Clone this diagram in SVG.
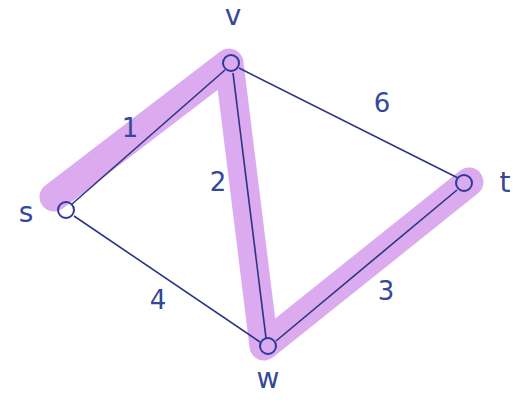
<svg xmlns="http://www.w3.org/2000/svg" width="530" height="400" viewBox="0 0 530 400">
<style>
.hl{fill:none;stroke:#dcaaee;stroke-width:29;stroke-linecap:round;stroke-linejoin:round}
.e{fill:none;stroke:#2a3580;stroke-width:1.6}
.n{fill:none;stroke:#2e3a9a;stroke-width:2}
.lbl{font-family:"DejaVu Sans",sans-serif;font-size:28px;fill:#34489a;text-anchor:middle}
.w{font-family:"DejaVu Sans",sans-serif;font-size:26px;fill:#34489a;text-anchor:middle}
</style>
<rect width="530" height="400" fill="#ffffff"/>
<path class="hl" d="M54,197 L229,63 L264,346 L469,182"/>
<g id="connectors">
<line class="e" x1="72" y1="204" x2="225" y2="70"/>
<line class="e" x1="239" y1="68" x2="458" y2="178"/>
<line class="e" x1="74" y1="216" x2="260" y2="342"/>
<line class="e" x1="233" y1="73" x2="266" y2="338"/>
<line class="e" x1="276" y1="341" x2="457" y2="190"/>
<text class="w" x="130" y="137">1</text>
<text class="w" x="382" y="112">6</text>
<text class="w" x="218" y="191">2</text>
<text class="w" x="158" y="309">4</text>
<text class="w" x="386" y="300">3</text>
</g>
<g id="node-s"><circle class="n" cx="66" cy="210" r="8"/><text class="lbl" x="26" y="222">s</text></g>
<g id="node-v"><circle class="n" cx="231" cy="63" r="8"/><text class="lbl" x="233" y="25">v</text></g>
<g id="node-t"><circle class="n" cx="464" cy="183" r="8"/><text class="lbl" x="505" y="192">t</text></g>
<g id="node-w"><circle class="n" cx="268" cy="346" r="8"/><text class="lbl" x="268" y="388">w</text></g>
</svg>
